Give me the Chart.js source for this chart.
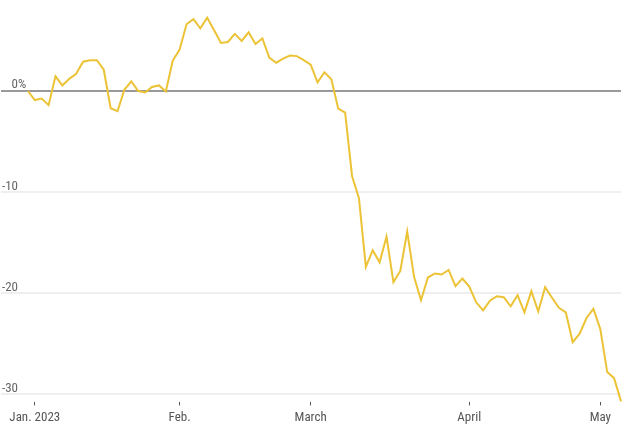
<!DOCTYPE html>
<html>
<head>
<meta charset="utf-8">
<script src="https://cdn.jsdelivr.net/npm/chart.js@4"></script>
<style>
  html, body { margin: 0; padding: 0; background: #fff; }
  #wrap { width: 634px; height: 431px; }
</style>
</head>
<body>
<div id="wrap"><canvas id="chart" width="634" height="431"></canvas></div>
<script>
// percent change since the start of the year, one value per trading day
const pctChange = [
  0, -0.9, -0.75, -1.4, 1.45, 0.55, 1.2, 1.7, 2.9, 3.05,
  3.05, 2.1, -1.7, -2.0, 0.15, 0.95, 0, -0.15, 0.4, 0.55,
  -0.05, 3.0, 4.1, 6.6, 7.1, 6.2, 7.25, 6.0, 4.75, 4.85,
  5.65, 4.95, 5.8, 4.65, 5.2, 3.3, 2.8, 3.2, 3.5, 3.45,
  3.05, 2.6, 0.85, 1.85, 1.15, -1.75, -2.15, -8.4, -10.6, -17.4,
  -15.75, -16.95, -14.4, -18.9, -17.8, -13.9, -18.4, -20.7, -18.45, -18.05,
  -18.15, -17.7, -19.3, -18.55, -19.35, -20.9, -21.7, -20.75, -20.3, -20.4,
  -21.3, -20.2, -21.9, -19.8, -21.8, -19.4, -20.45, -21.45, -21.9, -24.85,
  -24.0, -22.45, -21.55, -23.55, -27.8, -28.4, -30.7
];

const tickDays = [1, 22, 41, 64, 83];
const tickLabels = ['Jan. 2023', 'Feb.', 'March', 'April', 'May'];
const yTicks = [0, -10, -20, -30];

const FONT = "'Liberation Sans Narrow', 'Roboto Condensed', 'DejaVu Sans Condensed', sans-serif";

// y labels sit above their gridline, numbers right-aligned, "%" hanging off
const yLabels = {
  id: 'yLabels',
  afterDraw(chart) {
    const ctx = chart.ctx;
    const y = chart.scales.y;
    ctx.save();
    ctx.font = '13px ' + FONT;
    ctx.fillStyle = '#666';
    ctx.textBaseline = 'alphabetic';
    yTicks.forEach(v => {
      const py = y.getPixelForValue(v) - 2.5;
      ctx.textAlign = 'right';
      ctx.fillText(String(v), 18, py);
      if (v === 0) {
        ctx.textAlign = 'left';
        ctx.fillText('%', 18, py);
      }
    });
    ctx.restore();
  }
};

const ctx = document.getElementById('chart').getContext('2d');
new Chart(ctx, {
  type: 'line',
  data: {
    datasets: [{
      data: pctChange.map((v, i) => ({ x: i, y: v })),
      borderColor: '#ecc336',
      borderWidth: 2,
      pointRadius: 0,
      tension: 0,
      clip: false
    }]
  },
  options: {
    responsive: false,
    animation: false,
    layout: { padding: { left: 1, right: 13, top: 0, bottom: 0 } },
    plugins: { legend: { display: false }, tooltip: { enabled: false } },
    scales: {
      x: {
        type: 'linear',
        min: -3.9,
        max: 86,
        afterBuildTicks: scale => { scale.ticks = tickDays.map(v => ({ value: v })); },
        border: { display: false },
        grid: {
          drawOnChartArea: false,
          drawTicks: true,
          tickLength: 3,
          tickColor: '#555',
          tickWidth: 1
        },
        ticks: {
          autoSkip: false,
          maxRotation: 0,
          padding: 5,
          color: '#555',
          font: { family: FONT, size: 13 },
          callback: v => tickLabels[tickDays.indexOf(v)]
        }
      },
      y: {
        min: -30.8,
        max: 9,
        afterBuildTicks: scale => { scale.ticks = yTicks.map(v => ({ value: v })); },
        border: { display: false },
        grid: {
          drawTicks: false,
          color: c => c.tick && c.tick.value === 0 ? '#999' : '#efefef',
          lineWidth: 2
        },
        ticks: { display: false }
      }
    }
  },
  plugins: [yLabels]
});
</script>
</body>
</html>
